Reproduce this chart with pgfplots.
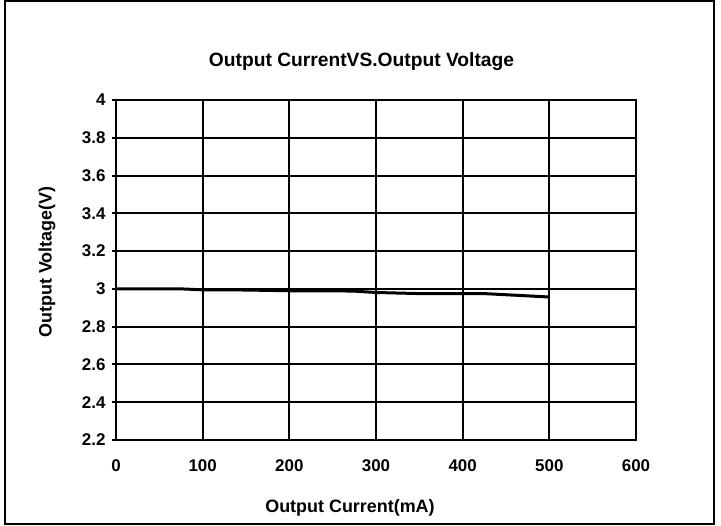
\documentclass[border=0pt]{standalone}
\usepackage{pgfplots}
\pgfplotsset{compat=1.18}
\usepackage{fontspec}
\setmainfont{Liberation Sans}
\begin{document}
\begin{tikzpicture}[x=1bp,y=1bp]
\useasboundingbox (-116,-86) rectangle (605,440);
\draw[line width=1.5bp] (-111,-84) rectangle (598,439);
\begin{axis}[
  at={(0,0)}, anchor=south west,
  scale only axis, width=520bp, height=340bp,
  xmin=0, xmax=600, ymin=2.2, ymax=4,
  xtick={0,100,...,600},
  ytick={2.2,2.4,...,4.01},
  yticklabels={2.2,2.4,2.6,2.8,3,3.2,3.4,3.6,3.8,4},
  /pgf/number format/assume math mode=true,
  grid=major,
  major grid style={black, line width=2bp},
  axis line style={black, line width=2.2bp},
  tick style={black, line width=2bp},
  xtick style={draw=none},
  ytick pos=left, tick align=outside, major tick length=4bp,
  ticklabel style={font=\fontsize{17}{19}\selectfont\bfseries},
  xticklabel style={yshift=-12bp},
  yticklabel style={xshift=-3bp},
]
\addplot[black, line width=3bp] coordinates {
(0,3.000) (50,3.000) (75,3.000) (100,2.995) (150,2.994) (200,2.990) (250,2.990) (275,2.988) (300,2.981) (350,2.975) (425,2.975) (500,2.957)
};
\end{axis}
\node[font=\fontsize{19.3}{21}\selectfont\bfseries] at (245.5,378) {Output CurrentVS.Output Voltage};
\node[font=\fontsize{18}{20}\selectfont\bfseries] at (234,-68) {Output Current(mA)};
\node[font=\fontsize{18}{20}\selectfont\bfseries, rotate=90] at (-69,178) {Output Voltage(V)};
\end{tikzpicture}
\end{document}
